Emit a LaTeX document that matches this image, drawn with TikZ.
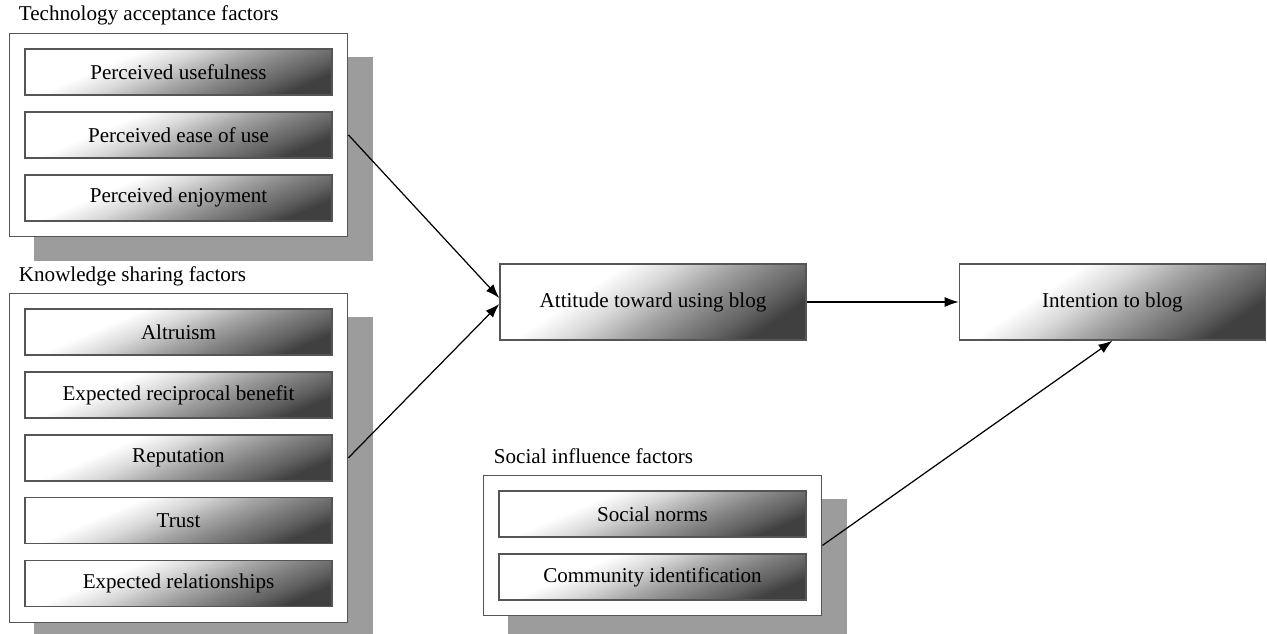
\documentclass[tikz,border=0pt]{standalone}
\usepackage{fontspec}
\setmainfont{Liberation Serif}
\usepackage{tikz}
\usetikzlibrary{arrows.meta,positioning,fit,backgrounds,shadows}
\definecolor{framegray}{HTML}{555555}
\definecolor{shadowgray}{HTML}{9C9C9C}
\pgfdeclarehorizontalshading{boxshade}{100bp}{color(0bp)=(white); color(25bp)=(white); color(36bp)=(white); color(45bp)=(black!15); color(54bp)=(black!35); color(62bp)=(black!50); color(69bp)=(black!62); color(75bp)=(black!75); color(100bp)=(black!75)}

\begin{document}
\begin{tikzpicture}[
    factor/.style={rectangle, draw=framegray, line width=0.8pt, shading=boxshade, shading angle=-67, minimum width=6.14cm, minimum height=0.92cm, font=\fontsize{12}{14}\selectfont, inner sep=1pt},
    construct/.style={factor, shading angle=-56, minimum width=6.12cm, minimum height=1.52cm},
    group/.style={rectangle, draw=framegray, line width=0.8pt, fill=white, inner sep=0.3cm, drop shadow={shadow xshift=0.5cm, shadow yshift=-0.48cm, fill=shadowgray, opacity=1}},
    grouptitle/.style={anchor=base west, inner sep=0pt, font=\fontsize{12}{14}\selectfont},
    edge/.style={-{Latex[length=2.8mm,width=2mm]}, line width=0.7pt},
    node distance=0.31cm
]
\useasboundingbox (0,0) rectangle (25.34,-12.68);

% technology acceptance
\node[factor] (pu) at (3.57,-1.44) {Perceived usefulness};
\node[factor, below=of pu] (peou) {Perceived ease of use};
\node[factor, below=of peou] (pe) {Perceived enjoyment};

% knowledge sharing
\node[factor] (alt) at (3.57,-6.64) {Altruism};
\node[factor, below=of alt] (rec) {Expected reciprocal benefit};
\node[factor, below=of rec] (rep) {Reputation};
\node[factor, below=of rep] (trust) {Trust};
\node[factor, below=of trust] (rel) {Expected relationships};

% social influence
\node[factor] (norms) at (13.05,-10.28) {Social norms};
\node[factor, below=of norms] (ident) {Community identification};

\node[construct] (att) at (13.06,-6.04) {Attitude toward using blog};
\node[construct, right=3.04cm of att] (int) {Intention to blog};

\begin{scope}[on background layer]
\node[group, fit=(pu)(pe)] (tech) {};
\node[group, fit=(alt)(rel)] (know) {};
\node[group, fit=(norms)(ident)] (soc) {};
\end{scope}

\node[grouptitle] (techlbl) at ([xshift=0.2cm, yshift=0.24cm]tech.north west) {Technology acceptance factors};
\node[grouptitle] (knowlbl) at ([xshift=0.2cm, yshift=0.22cm]know.north west) {Knowledge sharing factors};
\node[grouptitle] (soclbl) at ([xshift=0.22cm, yshift=0.22cm]soc.north west) {Social influence factors};

\draw[edge] (tech.east) -- ([yshift=0.08cm]att.west);
\draw[edge] (know.east) -- ([yshift=-0.04cm]att.west);
\draw[edge] (att) -- (int);
\draw[edge] (soc.east) -- (int.south);
\end{tikzpicture}
\end{document}
